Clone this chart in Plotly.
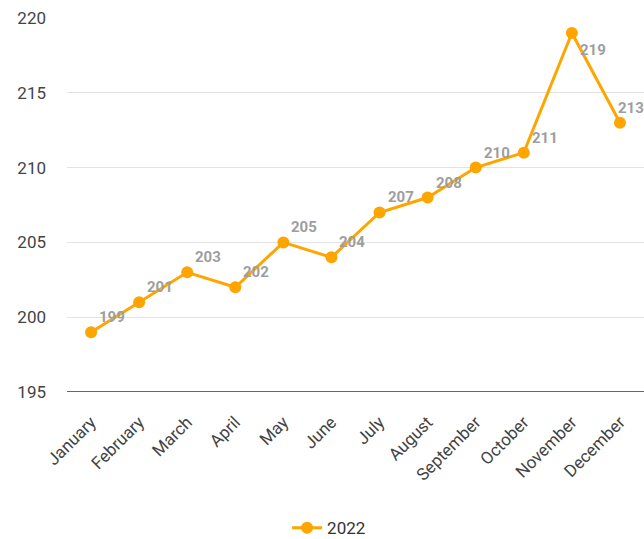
import plotly.graph_objects as go

months = ["January", "February", "March", "April", "May", "June", "July",
          "August", "September", "October", "November", "December"]
values_2022 = [199, 201, 203, 202, 205, 204, 207, 208, 210, 211, 219, 213]
series_name = "2022"
y_ticks = [195, 200, 205, 210, 215, 220]

ORANGE = "#FFA500"
LABEL_GRAY = "#9e9e9e"

fig = go.Figure()
fig.add_trace(go.Scatter(
    x=months, y=values_2022, name=series_name, mode="lines+markers",
    line=dict(color=ORANGE, width=3),
    marker=dict(color=ORANGE, size=12),
    cliponaxis=False,
    hoverinfo="skip",
))

# data labels
for i, (m, v) in enumerate(zip(months, values_2022)):
    xs, ys = 6, 15
    if i == len(months) - 2:
        ys = -17
    if i == len(months) - 1:
        xs = -4
    fig.add_annotation(
        x=m, y=v, text=str(v), showarrow=False,
        xanchor="left", yanchor="middle", xshift=xs, yshift=ys,
        font=dict(family="Roboto", size=15, color=LABEL_GRAY, weight="bold"),
    )

fig.update_layout(
    width=644, height=539,
    margin=dict(l=67, r=0, t=18, b=147, autoexpand=False),
    paper_bgcolor="white", plot_bgcolor="white",
    font=dict(family="Roboto", size=17, color="#444444"),
    showlegend=True,
    legend=dict(orientation="h", xref="container", x=0.511, xanchor="center",
                yref="paper", y=-0.364, yanchor="middle",
                font=dict(size=17, color="#333333")),
    xaxis=dict(
        type="category", range=[-0.5, 11.5], showgrid=False,
        tickangle=-45, ticklabelstandoff=16, automargin=False,
        showline=False, zeroline=False,
    ),
    yaxis=dict(
        range=[195, 220], tickvals=y_ticks, showgrid=True, automargin=False,
        gridcolor="#e3e3e3", gridwidth=1, zeroline=False, showline=False,
        ticklabelstandoff=20,
    ),
)

# baseline
fig.add_shape(type="line", xref="paper", yref="y", x0=0, x1=1, y0=195, y1=195,
              line=dict(color="#333333", width=1.5))

fig.write_html(
    "out.html",
    config={"displayModeBar": False},
    post_script="document.body.style.margin='0';document.body.style.overflow='hidden';",
)
